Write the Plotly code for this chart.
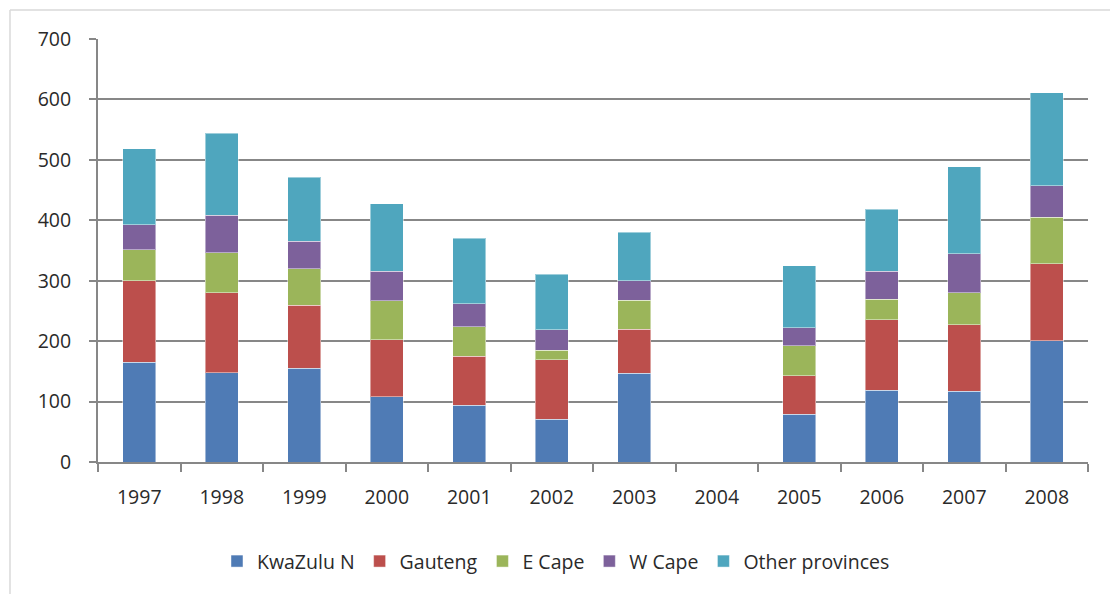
import plotly.graph_objects as go

years = ["1997", "1998", "1999", "2000", "2001", "2002", "2003", "2004", "2005", "2006", "2007", "2008"]
kwazulu = [165, 148, 155, 108, 94, 71, 147, None, 79, 119, 117, 201]
gauteng = [135, 132, 104, 94, 81, 98, 73, None, 64, 116, 110, 127]
e_cape = [51, 66, 61, 65, 49, 16, 48, None, 49, 34, 53, 77]
w_cape = [42, 62, 45, 49, 38, 34, 32, None, 30, 47, 65, 52]
other = [125, 136, 106, 111, 108, 92, 80, None, 103, 102, 144, 154]

series = [
    ("KwaZulu N", kwazulu, "#4F7BB5"),
    ("Gauteng", gauteng, "#BC4F4C"),
    ("E Cape", e_cape, "#9BB55A"),
    ("W Cape", w_cape, "#7D619B"),
    ("Other provinces", other, "#4FA6BE"),
]

fig = go.Figure()
for name, vals, col in series:
    fig.add_trace(go.Bar(
        x=years, y=vals, name=name,
        marker=dict(color=col, line=dict(color="rgba(255,255,255,0.45)", width=1)),
        width=0.4,
    ))

font_family = "Open Sans, Noto Sans, sans-serif"
axis_col = "#878787"
txt_col = "#2a2a2a"

fig.update_layout(
    barmode="stack",
    width=1110, height=594,
    paper_bgcolor="white", plot_bgcolor="white",
    margin=dict(l=98, r=22, t=39, b=132),
    font=dict(family=font_family, size=19.5, color=txt_col),
    showlegend=True,
    legend=dict(orientation="h", x=0.4626, xanchor="center", y=-0.235, yanchor="middle",
                font=dict(size=19.5, color=txt_col), traceorder="normal"),
    xaxis=dict(
        type="category", tickson="boundaries", ticks="outside", ticklen=8,
        tickcolor=axis_col, tickwidth=2, showline=True, linecolor=axis_col, linewidth=2,
        showgrid=False, ticklabelstandoff=17, tickfont=dict(size=19.5),
    ),
    yaxis=dict(
        range=[0, 700], dtick=100, ticks="outside", ticklen=7, tickcolor=axis_col, tickwidth=2,
        showline=True, linecolor=axis_col, linewidth=2,
        showgrid=True, gridcolor=axis_col, gridwidth=1.5, zeroline=False,
        ticklabelstandoff=14, tickfont=dict(size=19.5),
    ),
    shapes=[
        dict(type="line", xref="paper", yref="paper", x0=-0.0889, x1=1.03, y0=1.0686, y1=1.0686,
             line=dict(color="#D9D9D9", width=1.5)),
        dict(type="line", xref="paper", yref="paper", x0=-0.0889, x1=-0.0889, y0=1.0686, y1=-0.32,
             line=dict(color="#D9D9D9", width=1.5)),
    ],
)

fig.write_html("out.html", config={"displayModeBar": False},
               post_script="document.body.style.margin='0';")
